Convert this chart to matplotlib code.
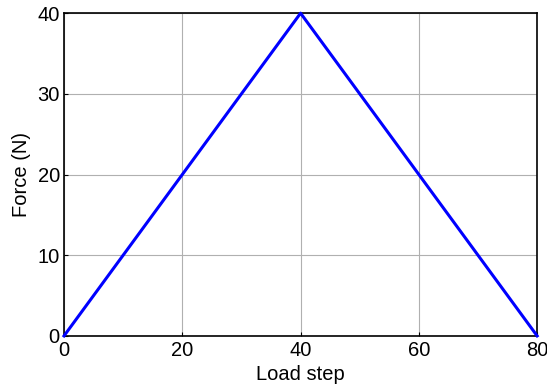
from matplotlib import pyplot as plt

# load history: ramp up to peak, then back down
load_step = [0, 40, 80]
force = [0, 40, 0]

plt.rcParams['font.family'] = ['Liberation Sans', 'DejaVu Sans']
plt.rcParams['font.size'] = 14.5

fig = plt.figure(figsize=(5.47, 3.87), dpi=100)
ax = fig.add_axes([0.117, 0.132, 0.865, 0.834])

ax.plot(load_step, force, color='#0000ff', lw=2.2, clip_on=False, zorder=3)
ax.set_xlim(0, 80)
ax.set_ylim(0, 40)
ax.set_xticks([0, 20, 40, 60, 80])
ax.set_yticks([0, 10, 20, 30, 40])
ax.grid(True, color='#b0b0b0', lw=0.8)
ax.tick_params(direction='in', length=3, width=0.8)
ax.tick_params(axis='x', pad=4)
ax.tick_params(axis='y', pad=3)
for s in ax.spines.values():
    s.set_linewidth(1.2)
ax.set_xlabel('Load step', labelpad=3)
ax.set_ylabel('Force (N)', labelpad=5)

fig.savefig('out.png', dpi=100)
